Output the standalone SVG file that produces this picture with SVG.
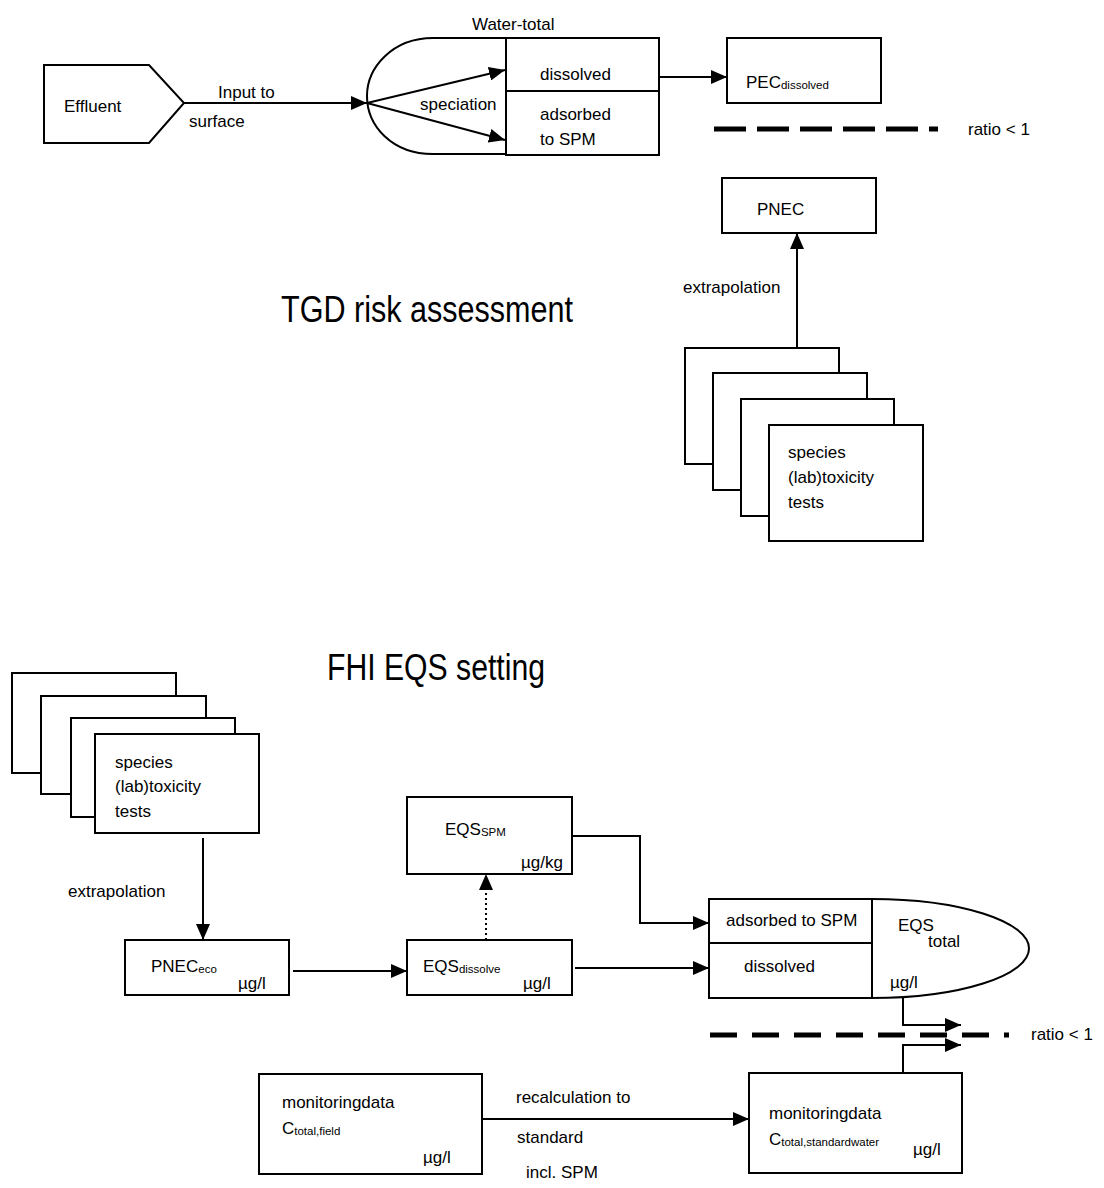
<svg xmlns="http://www.w3.org/2000/svg" width="1104" height="1188" viewBox="0 0 1104 1188">
<defs>
<style>
text{font-family:"Liberation Sans",Arial,sans-serif;font-size:17px;fill:#000}
.t{font-size:37px}
.s{font-size:11.5px}
.box{fill:#fff;stroke:#000;stroke-width:2}
.ln{fill:none;stroke:#000;stroke-width:2}
.arr{fill:none;stroke:#000;stroke-width:2;marker-end:url(#ah)}
.dot{fill:none;stroke:#000;stroke-width:2;stroke-dasharray:2 3;marker-end:url(#ah)}
.dash{fill:none;stroke:#000;stroke-width:5}
</style>
<marker id="ah" markerUnits="userSpaceOnUse" markerWidth="17" markerHeight="14" refX="16" refY="7" orient="auto">
<path d="M0,0 L16,7 L0,14 z" fill="#000"/>
</marker>
</defs>
<rect width="1104" height="1188" fill="#fff"/>

<!-- titles -->
<text class="t" x="281" y="322" textLength="292" lengthAdjust="spacingAndGlyphs">TGD risk assessment</text>
<text class="t" x="327" y="680" textLength="218" lengthAdjust="spacingAndGlyphs">FHI EQS setting</text>

<!-- TOP: TGD -->
<g id="effluent">
<path class="box" d="M44,65 H149 L184,103 L149,143 H44 Z"/>
<text x="64" y="112">Effluent</text>
</g>
<g id="water-total">
<path class="box" d="M506,38 H433 C392,38 367,68 367,96 C367,126 392,154 433,154 H506"/>
<rect class="box" x="506" y="38" width="153" height="117"/>
<line class="ln" x1="506" y1="91" x2="659" y2="91"/>
<text x="472" y="30">Water-total</text>
<text x="420" y="110">speciation</text>
<text x="540" y="80">dissolved</text>
<text x="540" y="120">adsorbed</text>
<text x="540" y="145">to SPM</text>
</g>
<g id="pec">
<rect class="box" x="727" y="38" width="154" height="65"/>
<text x="746" y="88">PEC<tspan class="s" dy="1">dissolved</tspan></text>
</g>
<g id="ratio-top">
<line class="dash" x1="714" y1="129" x2="938" y2="129" stroke-dasharray="32 11"/>
<text x="968" y="135">ratio &lt; 1</text>
</g>
<g id="pnec">
<rect class="box" x="722" y="178" width="154" height="55"/>
<text x="757" y="215">PNEC</text>
</g>
<g id="tests-top">
<rect class="box" x="685" y="348" width="154" height="116"/>
<rect class="box" x="713" y="373" width="154" height="117"/>
<rect class="box" x="741" y="399" width="153" height="117"/>
<rect class="box" x="769" y="425" width="154" height="116"/>
<text x="788" y="458">species</text>
<text x="788" y="483">(lab)toxicity</text>
<text x="788" y="508">tests</text>
</g>

<!-- BOTTOM: FHI -->
<g id="tests-bottom">
<rect class="box" x="12" y="673" width="164" height="100"/>
<rect class="box" x="41" y="696" width="165" height="98"/>
<rect class="box" x="71" y="718" width="164" height="99"/>
<rect class="box" x="95" y="734" width="164" height="99"/>
<text x="115" y="768">species</text>
<text x="115" y="792">(lab)toxicity</text>
<text x="115" y="817">tests</text>
</g>
<g id="pnec-eco">
<rect class="box" x="125" y="940" width="164" height="55"/>
<text x="151" y="972">PNEC<tspan class="s" dy="1">eco</tspan></text>
<text x="238" y="989">µg/l</text>
</g>
<g id="eqs-dissolve">
<rect class="box" x="407" y="940" width="165" height="55"/>
<text x="423" y="972">EQS<tspan class="s" dy="1">dissolve</tspan></text>
<text x="523" y="989">µg/l</text>
</g>
<g id="eqs-spm">
<rect class="box" x="407" y="797" width="165" height="77"/>
<text x="445" y="835">EQS<tspan class="s" dy="1">SPM</tspan></text>
<text x="563" y="868" text-anchor="end">µg/kg</text>
</g>
<g id="eqs-total">
<path class="box" d="M872,899 A157,49.5 0 0 1 872,998"/>
<rect class="box" x="709" y="899" width="163" height="99"/>
<line class="ln" x1="709" y1="943" x2="872" y2="943"/>
<text x="726" y="926">adsorbed to SPM</text>
<text x="744" y="972">dissolved</text>
<text x="898" y="931">EQS</text>
<text x="928" y="947">total</text>
<text x="890" y="988">µg/l</text>
</g>
<g id="ratio-bottom">
<line class="dash" x1="710" y1="1035" x2="1009" y2="1035" stroke-dasharray="27 15"/>
<text x="1031" y="1040">ratio &lt; 1</text>
</g>
<g id="monitoring-field">
<rect class="box" x="259" y="1074" width="223" height="100"/>
<text x="282" y="1108">monitoringdata</text>
<text x="282" y="1134">C<tspan class="s" dy="1">total,field</tspan></text>
<text x="423" y="1163">µg/l</text>
</g>
<g id="monitoring-standard">
<rect class="box" x="749" y="1073" width="213" height="100"/>
<text x="769" y="1119">monitoringdata</text>
<text x="769" y="1145">C<tspan class="s" dy="1">total,standardwater</tspan></text>
<text x="913" y="1155">µg/l</text>
</g>

<!-- connectors -->
<g id="connectors">
<line class="arr" x1="184" y1="103" x2="367" y2="103"/>
<text x="218" y="98">Input to</text>
<text x="189" y="127">surface</text>
<line class="arr" x1="367" y1="103" x2="505" y2="70"/>
<line class="arr" x1="367" y1="103" x2="505" y2="140"/>
<line class="arr" x1="659" y1="77" x2="727" y2="77"/>
<line class="arr" x1="797" y1="348" x2="797" y2="233"/>
<text x="683" y="293">extrapolation</text>
<line class="arr" x1="203" y1="838" x2="203" y2="940"/>
<text x="68" y="897">extrapolation</text>
<line class="arr" x1="293" y1="971" x2="407" y2="971"/>
<line class="dot" x1="486" y1="940" x2="486" y2="874"/>
<polyline class="arr" points="572,836 640,836 640,923 709,923"/>
<line class="arr" x1="575" y1="968" x2="709" y2="968"/>
<polyline class="arr" points="903,998 903,1025 961,1025"/>
<polyline class="arr" points="903,1073 903,1045 961,1045"/>
<line class="arr" x1="482" y1="1119" x2="749" y2="1119"/>
<text x="516" y="1103">recalculation to</text>
<text x="517" y="1143">standard</text>
<text x="526" y="1178">incl. SPM</text>
</g>
</svg>
